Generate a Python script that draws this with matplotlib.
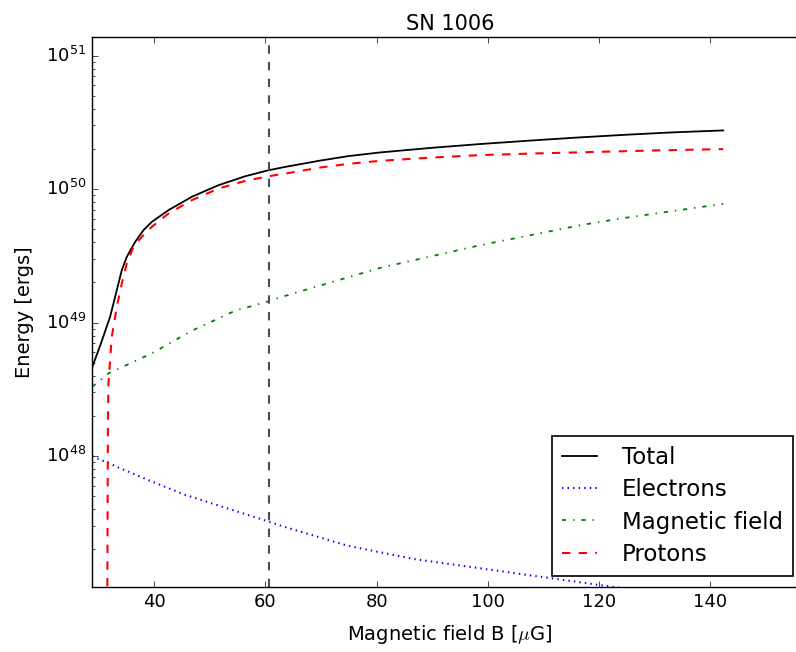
import numpy as np
import matplotlib
matplotlib.use('Agg')
import matplotlib.pyplot as plt

# values (log10 of energy in ergs)
b_total = [28.8, 30.5, 32.1, 33.0, 33.6, 34.2, 35.1, 36.6, 38.1, 39.6, 42.6,
           46.8, 51.6, 56.4, 60.6, 63.6, 70.0, 75.0, 80.6, 90.0, 98.6, 108.0,
           116.6, 125.0, 133.0, 142.3]
log_total = [48.657, 48.85, 49.044, 49.193, 49.293, 49.393, 49.493, 49.605,
             49.693, 49.755, 49.843, 49.943, 50.03, 50.097, 50.142, 50.167,
             50.215, 50.248, 50.275, 50.31, 50.338, 50.365, 50.388, 50.408,
             50.425, 50.44]

b_elec = [28.9, 33.6, 39.6, 45.6, 51.6, 60.6, 62.7, 74.7, 86.6, 98.6, 110.6,
          122.6, 132.0, 142.3]
log_elec = [48.0, 47.915, 47.81, 47.71, 47.63, 47.51, 47.48, 47.33, 47.23,
            47.16, 47.09, 47.02, 46.97, 46.92]

b_mag = [28.9, 31.8, 39.6, 46.8, 54.6, 60.6, 62.7, 80.6, 98.6, 116.6, 123.8,
         142.3]
log_mag = [48.52, 48.62, 48.77, 48.94, 49.09, 49.16, 49.19, 49.41, 49.58,
           49.73, 49.78, 49.89]

b_prot = [31.6, 31.7, 31.8, 32.4, 33.3, 34.2, 35.1, 36.3, 37.8, 39.6, 42.6,
          46.8, 51.6, 56.4, 60.6, 63.6, 70.0, 75.0, 80.6, 90.0, 98.6, 108.0,
          116.6, 130.0, 142.3]
log_prot = [46.9, 48.2, 48.545, 48.894, 49.118, 49.293, 49.443, 49.568,
            49.643, 49.718, 49.818, 49.918, 50.005, 50.062, 50.097, 50.117,
            50.163, 50.19, 50.212, 50.237, 50.255, 50.267, 50.276, 50.29,
            50.30]

b_best = 60.6

plt.style.use('classic')
fig = plt.figure(figsize=(7.96, 6.52), dpi=100, facecolor='white',
                 edgecolor='white')
ax = fig.add_axes([0.1156, 0.0997, 0.9, 0.8436])
# the reference is cropped just before the right border of the axes
ax.spines['right'].set_visible(False)

ax.plot(b_total, 10**np.array(log_total), 'k-', lw=1.3, label='Total')
ax.plot(b_elec, 10**np.array(log_elec), 'b:', lw=1.5, label='Electrons')
ax.plot(b_mag, 10**np.array(log_mag), 'g-.', lw=1.3, label='Magnetic field')
ax.plot(b_prot, 10**np.array(log_prot), 'r--', lw=1.5, label='Protons')
ax.axvline(b_best, color='0.3', ls='--', lw=1.5)

ax.set_yscale('log')
ax.set_xlim(28.85, 157.6)
ax.set_ylim(10**47.02, 10**51.14)
ax.set_xticks([40, 60, 80, 100, 120, 140])
ax.tick_params(labelsize=13)

ax.set_xlabel(r'Magnetic field B [$\mu$G]', fontsize=14, labelpad=9)
ax.set_ylabel('Energy [ergs]', fontsize=14, labelpad=9)
ax.set_title('SN 1006', fontsize=15)

leg = ax.legend(loc='lower right', fontsize=16.5, handlelength=1.5,
                handletextpad=1.1, labelspacing=0.4, borderpad=0.45,
                borderaxespad=0.0, numpoints=1,
                bbox_to_anchor=(0.979, 0.02), bbox_transform=ax.transAxes)
leg.get_frame().set_linewidth(1.2)

fig.savefig('out.png', dpi=100, facecolor='white', edgecolor='white')
